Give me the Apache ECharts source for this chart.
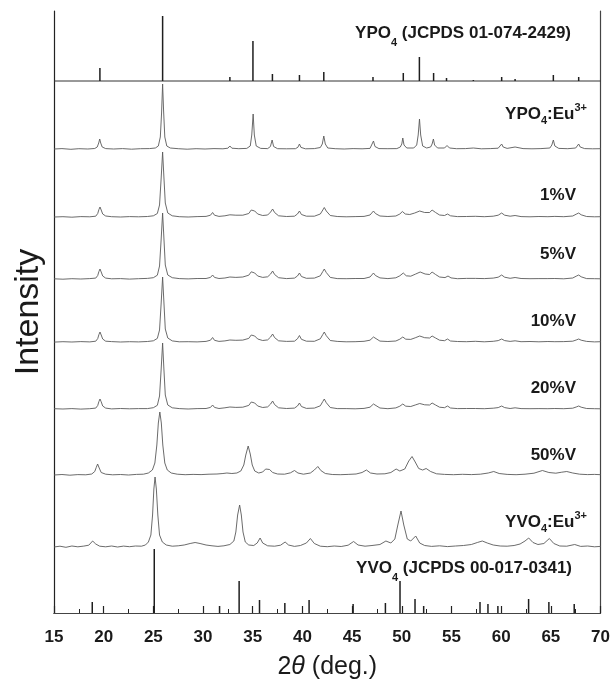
<!DOCTYPE html>
<html>
<head>
<meta charset="utf-8">
<script src="https://cdn.jsdelivr.net/npm/echarts@6/dist/echarts.min.js"></script>
<style>html,body{margin:0;padding:0;background:#fff}#c{width:613px;height:685px}</style>
</head>
<body>
<div id="c"></div>
<script>
// ---------- DATA ----------
const xTickLabels = [15, 20, 25, 30, 35, 40, 45, 50, 55, 60, 65, 70];

// reference stick patterns (2theta, relative height)
const ypoRefPos = [19.62, 25.93, 32.7, 35.02, 36.98, 39.7, 42.15, 47.1, 50.15, 51.77, 53.2, 54.5, 57.2, 60.05, 61.4, 65.25, 67.8];
const ypoRefH   = [13, 65, 4, 40, 7, 6, 9, 4, 8, 24, 8, 3, 1, 4, 2, 6, 4];
const yvoRefPos = [18.85, 25.09, 31.66, 33.63, 35.68, 38.23, 40.67, 45.1, 48.35, 49.82, 51.33, 52.2, 57.87, 58.67, 59.67, 62.76, 64.8, 67.35];
const yvoRefH   = [11, 64, 7, 32, 13, 10, 13, 9, 10, 32, 14, 7, 11, 9, 7, 14, 11, 9];

// measured patterns [2theta, intensity]
const ypoEu = [[15,0],[15.8,0.4],[16.7,-0.3],[17.5,0.3],[18.4,0],[19.1,0.5],[19.35,2],[19.5,6],[19.6,10],[19.7,6],[19.85,2],[20.2,0.4],[21,0],[21.9,0.4],[22.8,-0.2],[23.7,0.3],[24.6,0.4],[25.2,1],[25.5,3],[25.7,12],[25.82,35],[25.93,65],[26.03,38],[26.15,12],[26.35,3],[26.7,1],[27.5,0.3],[28.4,-0.2],[29.3,0.3],[30.2,0],[31.1,0.4],[32,0.2],[32.5,0.8],[32.7,3],[32.9,0.8],[33.6,0.3],[34.4,0.6],[34.75,3],[34.9,14],[35.04,35],[35.16,14],[35.35,3],[35.8,0.6],[36.5,0.4],[36.78,2.5],[36.95,9],[37.1,2.5],[37.5,0.3],[38.4,0.2],[39.3,0.3],[39.55,1.8],[39.7,5],[39.85,1.6],[40.3,0.2],[41.2,0.4],[41.8,1.5],[42.0,5],[42.15,13],[42.3,5],[42.55,1],[43.3,0.3],[44.2,0],[45.1,0.4],[46.0,0.2],[46.8,0.6],[47.0,2.5],[47.15,8],[47.3,2.5],[47.7,0.4],[48.6,0.3],[49.5,0.4],[49.85,2],[50.0,5],[50.1,11],[50.22,4],[50.5,1],[51.2,1],[51.5,4],[51.65,14],[51.78,30],[51.9,14],[52.1,3],[52.5,1],[52.9,2],[53.05,5],[53.18,10],[53.3,4],[53.6,1],[54.3,1],[54.55,3.5],[54.8,1],[55.5,0.3],[56.4,0.4],[57.2,1],[58.0,0.2],[58.9,0.4],[59.7,0.8],[59.9,2],[60.05,5],[60.2,2],[60.6,0.6],[61.4,2],[62.2,0.4],[63.1,0.2],[64.0,0.4],[64.9,1],[65.1,4],[65.25,9],[65.4,3],[65.8,0.6],[66.7,0.3],[67.5,1],[67.65,2.5],[67.8,5],[67.95,2],[68.4,0.4],[69.2,0.2],[70,0.3]];

const v1 = [[15,0],[15.9,0.3],[16.8,-0.2],[17.7,0.4],[18.6,0.2],[19.2,0.8],[19.4,3.5],[19.52,7.5],[19.63,10],[19.75,7],[19.9,3],[20.2,1],[20.8,0.3],[21.7,0],[22.6,0.4],[23.5,0.2],[24.4,0.5],[25.0,1.2],[25.4,3.5],[25.62,12],[25.78,38],[25.93,65],[26.06,40],[26.2,14],[26.45,4],[26.9,1.2],[27.6,0.3],[28.5,0],[29.4,0.4],[30.3,0.6],[30.75,1.8],[30.96,4.5],[31.15,1.8],[31.6,0.6],[32.2,1.2],[32.7,2.2],[33.3,1.8],[34.0,1.8],[34.6,3.5],[34.85,7],[35.0,9],[35.2,6],[35.5,3],[36.0,1.5],[36.5,2],[36.8,5],[37.0,8],[37.2,4.5],[37.6,1.2],[38.4,0.5],[39.2,0.8],[39.5,3],[39.7,6],[39.9,2.5],[40.4,0.8],[41.2,0.8],[41.8,3],[42.05,7],[42.2,9.5],[42.4,6],[42.8,1.5],[43.5,0.5],[44.4,0.2],[45.3,0.4],[46.2,0.6],[46.8,2],[47.0,4],[47.15,6],[47.35,3.5],[47.8,1],[48.6,0.5],[49.4,1],[49.8,3],[50.06,5.5],[50.35,3],[50.8,2.5],[51.3,4],[51.8,6],[52.3,4.5],[52.8,4.5],[53.05,7],[53.2,8],[53.4,4.5],[53.8,2],[54.3,1.5],[54.6,3],[54.9,1.2],[55.6,0.4],[56.5,0.5],[57.4,0.7],[58.3,0.3],[59.2,0.8],[59.7,1.8],[60.05,4],[60.35,1.8],[60.9,0.8],[61.4,1.5],[62.0,0.4],[62.9,0.2],[63.8,0.5],[64.7,0.3],[65.4,0.6],[66.3,0.3],[67.2,1],[67.55,2.8],[67.8,4],[68.05,2.2],[68.6,0.5],[69.4,0.2],[70,0.3]];

const v5 = [[15,0.2],[15.9,-0.2],[16.8,0.3],[17.7,0],[18.6,0.4],[19.2,0.9],[19.4,3.5],[19.52,7.5],[19.63,10],[19.75,7],[19.9,3],[20.2,0.9],[20.8,0.2],[21.7,0.4],[22.6,-0.1],[23.5,0.3],[24.4,0.6],[25.0,1.3],[25.4,3.8],[25.62,13],[25.78,39],[25.93,66],[26.06,41],[26.2,14],[26.45,4],[26.9,1.3],[27.6,0.4],[28.5,0.1],[29.4,0.5],[30.3,0.5],[30.75,1.6],[30.96,4],[31.15,1.6],[31.6,0.5],[32.2,1],[32.7,2],[33.3,1.6],[34.0,2],[34.6,3.8],[34.85,7.2],[35.0,9],[35.2,6],[35.5,3],[36.0,1.6],[36.5,2.2],[36.8,5],[37.0,8],[37.2,4.5],[37.6,1.3],[38.4,0.4],[39.2,0.9],[39.5,3],[39.7,6],[39.9,2.5],[40.4,0.7],[41.2,0.9],[41.8,3.2],[42.05,7.5],[42.2,10],[42.4,6.5],[42.8,1.6],[43.5,0.4],[44.4,0.3],[45.3,0.5],[46.2,0.5],[46.8,2],[47.0,4],[47.15,6],[47.35,3.5],[47.8,1.1],[48.6,0.4],[49.4,1.2],[49.8,3.2],[50.15,6],[50.45,3.2],[50.9,2.8],[51.4,5],[51.85,7],[52.35,5],[52.8,4.5],[53.05,7],[53.2,8],[53.4,4.5],[53.8,2],[54.35,1.4],[54.65,3],[54.95,1.1],[55.6,0.3],[56.5,0.6],[57.4,0.6],[58.3,0.4],[59.2,0.9],[59.7,1.8],[60.05,4],[60.35,1.8],[60.9,0.7],[61.4,1.5],[62.0,0.5],[62.9,0.3],[63.8,0.4],[64.7,0.4],[65.4,0.5],[66.3,0.2],[67.2,1],[67.55,2.8],[67.8,4],[68.05,2.2],[68.6,0.4],[69.4,0.3],[70,0.2]];

const v10 = [[15,-0.1],[15.9,0.3],[16.8,0],[17.7,0.4],[18.6,0.1],[19.2,0.8],[19.4,3.4],[19.52,7.4],[19.63,10],[19.75,7],[19.9,3],[20.2,0.8],[20.8,0.4],[21.7,0],[22.6,0.3],[23.5,0.1],[24.4,0.5],[25.0,1.2],[25.4,3.6],[25.62,12],[25.78,38],[25.93,65],[26.06,40],[26.2,13],[26.45,4],[26.9,1.1],[27.6,0.2],[28.5,0.3],[29.4,0.1],[30.3,0.6],[30.75,1.8],[30.96,4.5],[31.15,1.7],[31.6,0.6],[32.2,1.1],[32.7,2],[33.3,1.7],[34.0,1.9],[34.6,3.6],[34.85,7],[35.0,9],[35.2,6],[35.5,3],[36.0,1.5],[36.5,2.1],[36.8,5],[37.0,8],[37.2,4.4],[37.6,1.2],[38.4,0.6],[39.2,0.8],[39.5,3.2],[39.7,6.5],[39.9,2.7],[40.4,0.8],[41.2,0.7],[41.8,3.2],[42.05,7.5],[42.2,10],[42.4,6.3],[42.8,1.5],[43.5,0.6],[44.4,0.2],[45.3,0.3],[46.2,0.7],[46.8,1.8],[47.0,3.5],[47.15,5],[47.35,3],[47.8,0.9],[48.6,0.5],[49.4,1],[49.8,2.8],[50.1,5],[50.4,2.8],[50.9,2.6],[51.35,4.2],[51.8,6],[52.3,4.3],[52.8,4],[53.05,6],[53.2,7],[53.4,4],[53.8,1.8],[54.3,1.3],[54.6,3],[54.9,1],[55.6,0.5],[56.5,0.3],[57.4,0.7],[58.3,0.2],[59.2,0.7],[59.7,1.4],[60.05,3],[60.35,1.4],[60.9,0.6],[61.4,1.2],[62.0,0.3],[62.9,0.5],[63.8,0.2],[64.7,0.5],[65.4,0.3],[66.3,0.4],[67.2,0.8],[67.55,2],[67.8,3],[68.05,1.8],[68.6,0.6],[69.4,0.1],[70,0.3]];

const v20 = [[15,0.3],[15.9,0],[16.8,0.4],[17.7,-0.1],[18.6,0.3],[19.2,0.9],[19.4,3.5],[19.52,7.5],[19.63,10],[19.75,7.2],[19.9,3],[20.2,0.9],[20.8,0.1],[21.7,0.5],[22.6,0.2],[23.5,0.4],[24.4,0.4],[25.0,1.3],[25.4,3.7],[25.62,13],[25.78,39],[25.93,66],[26.06,40],[26.2,14],[26.45,4],[26.9,1.2],[27.6,0.4],[28.5,0],[29.4,0.4],[30.3,0.5],[30.75,1.6],[30.96,4],[31.15,1.6],[31.6,0.5],[32.2,1.2],[32.7,2],[33.3,1.6],[34.0,1.8],[34.6,3.6],[34.85,7],[35.0,9],[35.2,6],[35.5,3],[36.0,1.5],[36.5,2.1],[36.8,5],[37.0,8],[37.2,4.4],[37.6,1.2],[38.4,0.5],[39.2,0.9],[39.5,3],[39.7,6],[39.9,2.5],[40.4,0.6],[41.2,0.9],[41.8,3.2],[42.05,7.5],[42.2,10],[42.4,6.3],[42.8,1.5],[43.5,0.4],[44.4,0.4],[45.3,0.2],[46.2,0.6],[46.8,1.8],[47.0,3.5],[47.15,5],[47.35,3],[47.8,1],[48.6,0.3],[49.4,1.1],[49.8,2.8],[50.1,5],[50.4,2.8],[50.9,2.5],[51.35,4],[51.8,5.5],[52.3,4.2],[52.8,4],[53.05,6],[53.2,7],[53.4,4],[53.8,1.8],[54.3,1.3],[54.6,3],[54.9,1],[55.6,0.4],[56.5,0.5],[57.4,0.5],[58.3,0.3],[59.2,0.8],[59.7,1.4],[60.05,3],[60.35,1.4],[60.9,0.5],[61.4,1.2],[62.0,0.4],[62.9,0.3],[63.8,0.4],[64.7,0.3],[65.4,0.5],[66.3,0.3],[67.2,0.8],[67.55,2],[67.8,3],[68.05,1.8],[68.6,0.5],[69.4,0.3],[70,0.2]];

const v50 = [[15,0],[15.8,0.5],[16.6,-0.2],[17.4,0.4],[18.2,0.2],[18.8,1],[19.1,3.5],[19.25,7.5],[19.39,11],[19.55,7],[19.75,2.5],[20.2,0.8],[20.9,0.2],[21.7,0.5],[22.5,0],[23.3,0.6],[24.0,0.8],[24.5,2],[24.9,5],[25.15,12],[25.35,30],[25.5,52],[25.65,63],[25.8,52],[25.95,30],[26.15,12],[26.4,5],[26.8,2],[27.4,0.8],[28.2,0.3],[29.0,0.6],[29.8,0.4],[30.6,0.8],[31.4,1],[32.0,1.5],[32.4,2],[32.9,1.5],[33.4,2],[33.8,4],[34.1,10],[34.3,20],[34.54,29],[34.75,21],[34.95,10],[35.2,4],[35.6,2],[36.0,3],[36.3,6],[36.5,8],[36.7,5.5],[37.0,2.5],[37.5,1],[38.2,0.8],[38.8,2.2],[39.2,4.5],[39.55,2],[40.1,0.8],[40.8,2],[41.2,5],[41.55,8.5],[41.85,4.5],[42.3,1.5],[43.0,0.5],[43.8,0.3],[44.6,0.6],[45.4,1],[46.0,2.5],[46.44,5],[46.85,2],[47.5,1],[48.3,1.2],[48.9,2.5],[49.43,6],[49.8,4],[50.3,6],[50.7,14],[51.03,18.5],[51.35,13],[51.7,6.5],[52.1,5],[52.45,6.5],[52.9,3.5],[53.5,1.2],[54.3,0.6],[55.2,0.3],[56.1,0.7],[57.0,0.4],[57.9,0.8],[58.7,2],[59.25,3.5],[59.8,1.5],[60.6,0.6],[61.5,0.3],[62.4,0.8],[63.3,1.8],[64.15,4.5],[64.8,2.5],[65.5,1.8],[66.1,2.8],[66.6,3.5],[67.2,2],[67.9,0.8],[68.7,0.4],[69.4,0.6],[70,0.3]];

const yvoEu = [[15,0],[15.6,0.8],[16.2,-0.3],[16.8,1],[17.4,0.2],[18.0,0.9],[18.5,1.8],[18.89,6],[19.2,3],[19.6,0.8],[20.2,0.2],[20.8,1],[21.4,0],[22.0,0.9],[22.6,0.3],[23.2,1],[23.8,0.8],[24.2,2],[24.5,5],[24.75,12],[24.92,32],[25.05,58],[25.17,70],[25.3,58],[25.45,32],[25.62,12],[25.9,5],[26.3,2],[26.9,0.8],[27.5,1.2],[28.1,2],[28.7,3.5],[29.2,4.5],[29.7,3.5],[30.3,2],[30.9,1.2],[31.5,0.6],[32.1,1.2],[32.7,2.5],[33.1,6],[33.3,15],[33.48,32],[33.68,42],[33.85,32],[34.02,15],[34.25,5],[34.6,2],[35.1,1.5],[35.45,4],[35.74,9],[36.0,4],[36.5,1.2],[37.2,0.8],[37.8,1.8],[38.26,5],[38.6,2],[39.2,0.6],[39.8,1.5],[40.4,4],[40.8,8.5],[41.2,3.5],[41.8,0.8],[42.5,0.3],[43.2,1],[43.9,0.5],[44.6,1.8],[45.15,5.5],[45.6,2],[46.3,0.8],[47.0,1.5],[47.8,2.5],[48.4,6],[48.9,4],[49.3,8],[49.6,22],[49.92,36],[50.2,22],[50.55,8],[50.9,6],[51.4,11],[51.8,4],[52.3,1.5],[53.0,0.6],[53.8,1.2],[54.6,0.4],[55.4,1],[56.2,1.5],[57.0,2.5],[57.6,4.5],[58.1,6],[58.6,4],[59.2,2],[59.9,1],[60.6,0.8],[61.3,1.5],[61.9,3],[62.4,6],[62.77,9],[63.2,4.5],[63.7,2.5],[64.3,3.5],[64.85,8.5],[65.3,3.5],[65.9,1],[66.6,0.8],[67.4,2.5],[68.0,0.6],[68.7,1],[69.4,0.2],[70,0.6]];

// ---------- LAYOUT (vertical stacking offsets, styles) ----------
const Y_MAX = 602;
const offsets = { ypoRef: 532, ypoEu: 464, v1: 396, v5: 334, v10: 271, v20: 204, v50: 138, yvoEu: 66, yvoRef: 0 };
const FONT = "'Liberation Sans', Arial, sans-serif";
const LINE_COLOR = '#5a5a5a';
const STICK_COLOR = '#1e1e1e';

function patternSeries(data, off) {
  return {
    type: 'line', data: data.map(p => [p[0], p[1] + off]),
    showSymbol: false, symbol: 'none', silent: true, animation: false,
    lineStyle: { color: LINE_COLOR, width: 0.9 }, z: 3
  };
}
function stickSeries(pos, h, off) {
  return {
    type: 'custom', silent: true, animation: false, z: 4,
    data: pos.map((p, i) => [p, h[i]]),
    renderItem: function (params, api) {
      const x = api.value(0), v = api.value(1);
      const a = api.coord([x, off]);
      const b = api.coord([x, off + v]);
      return { type: 'line', shape: { x1: a[0], y1: a[1], x2: b[0], y2: b[1] },
               style: { stroke: STICK_COLOR, lineWidth: 1.5 } };
    }
  };
}

const chart = echarts.init(document.getElementById('c'), null, { renderer: 'canvas' });

const boldN = (lh) => ({ fontSize: 17, fontWeight: 'bold', fontFamily: FONT, fill: '#1a1a1a', lineHeight: lh });
function labelGraphic(text, rich, right, cy) {
  return { type: 'text', x: right, y: cy, silent: true, z: 10,
    style: { text: text, rich: rich, align: 'right', verticalAlign: 'middle',
             fontSize: 17, fontWeight: 'bold', fontFamily: FONT, fill: '#1a1a1a' } };
}
const richJC = {
  n: boldN(30),
  s: { fontSize: 11, fontWeight: 'bold', fontFamily: FONT, fill: '#1a1a1a', lineHeight: 10, verticalAlign: 'bottom' }
};
const richEu = {
  n: boldN(24),
  s: { fontSize: 11, fontWeight: 'bold', fontFamily: FONT, fill: '#1a1a1a', lineHeight: 10, verticalAlign: 'bottom' },
  p: { fontSize: 11, fontWeight: 'bold', fontFamily: FONT, fill: '#1a1a1a', lineHeight: 12, verticalAlign: 'top' }
};
const plain = { n: boldN(20) };

const option = {
  animation: false,
  backgroundColor: '#fff',
  grid: { left: 54, right: 12, top: 11, bottom: 72 },
  xAxis: [{
    type: 'value', min: 15, max: 70, interval: 5, position: 'bottom',
    axisLine: { show: true, lineStyle: { color: '#222', width: 1.2 } },
    axisTick: { show: true, inside: true, length: 7, lineStyle: { color: '#222', width: 1.2 } },
    minorTick: { show: true, splitNumber: 2, length: 4, lineStyle: { color: '#222', width: 1 } },
    splitLine: { show: false },
    axisLabel: { margin: 16, fontSize: 17, fontWeight: 'bold', fontFamily: FONT, color: '#1a1a1a',
      formatter: v => xTickLabels.indexOf(v) >= 0 ? String(v) : '' },
    name: '{r|2}{i|θ}{r| (deg.)}', nameLocation: 'middle', nameGap: 42,
    nameTextStyle: { rich: {
      r: { fontSize: 25, fontFamily: FONT, color: '#1a1a1a' },
      i: { fontSize: 25, fontFamily: FONT, fontStyle: 'italic', color: '#1a1a1a' } } }
  }, {
    type: 'value', min: 15, max: 70, position: 'top',
    axisLine: { show: true, lineStyle: { color: '#444', width: 1 } },
    axisTick: { show: false }, axisLabel: { show: false }, splitLine: { show: false }
  }],
  yAxis: [{
    type: 'value', min: 0, max: Y_MAX, position: 'left',
    axisLine: { show: true, lineStyle: { color: '#222', width: 1.2 } },
    axisTick: { show: false }, axisLabel: { show: false }, splitLine: { show: false },
    name: 'Intensity', nameLocation: 'middle', nameGap: 8,
    nameTextStyle: { fontSize: 34, fontFamily: FONT, color: '#1a1a1a' }
  }, {
    type: 'value', min: 0, max: Y_MAX, position: 'right',
    axisLine: { show: true, lineStyle: { color: '#444', width: 1.2 } },
    axisTick: { show: false }, axisLabel: { show: false }, splitLine: { show: false }
  }],
  series: [
    { type: 'line', data: [[15, offsets.ypoRef], [70, offsets.ypoRef]], showSymbol: false, silent: true,
      lineStyle: { color: '#333', width: 1 }, z: 3 },
    stickSeries(ypoRefPos, ypoRefH, offsets.ypoRef),
    patternSeries(ypoEu, offsets.ypoEu),
    patternSeries(v1, offsets.v1),
    patternSeries(v5, offsets.v5),
    patternSeries(v10, offsets.v10),
    patternSeries(v20, offsets.v20),
    patternSeries(v50, offsets.v50),
    patternSeries(yvoEu, offsets.yvoEu),
    stickSeries(yvoRefPos, yvoRefH, offsets.yvoRef)
  ],
  graphic: [
    labelGraphic('{n|YPO}{s|4}{n| (JCPDS 01-074-2429)}', richJC, 571, 33),
    labelGraphic('{n|YPO}{s|4}{n|:Eu}{p|3+}', richEu, 587, 114),
    labelGraphic('{n|1%V}', plain, 576, 195.5),
    labelGraphic('{n|5%V}', plain, 576, 254),
    labelGraphic('{n|10%V}', plain, 576, 321),
    labelGraphic('{n|20%V}', plain, 576, 388),
    labelGraphic('{n|50%V}', plain, 576, 455.5),
    labelGraphic('{n|YVO}{s|4}{n|:Eu}{p|3+}', richEu, 587, 522.5),
    labelGraphic('{n|YVO}{s|4}{n| (JCPDS 00-017-0341)}', richJC, 572, 568)
  ]
};
chart.setOption(option);
</script>
</body>
</html>
